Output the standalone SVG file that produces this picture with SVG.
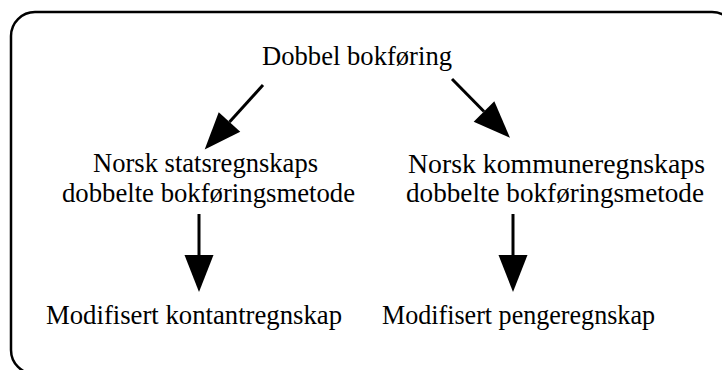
<svg xmlns="http://www.w3.org/2000/svg" width="722" height="370" viewBox="0 0 722 370">
  <style>
    .frame { fill: #ffffff; stroke: #000000; stroke-width: 2.5; }
    .label { font-family: "Liberation Serif", "Times New Roman", serif; font-size: 28px; fill: #000000; }
    .edge { stroke: #000000; stroke-width: 3; fill: none; marker-end: url(#head); }
  </style>
  <defs>
    <marker id="head" markerUnits="userSpaceOnUse" markerWidth="38" markerHeight="30" refX="0" refY="14.5" orient="auto" overflow="visible">
      <path d="M0,0 L37,14.5 L0,29 Z" fill="#000000"/>
    </marker>
  </defs>

  <rect width="722" height="370" fill="#ffffff"/>
  <rect class="frame" x="11" y="12" width="725" height="362" rx="24" ry="24"/>

  <g id="node-dobbel">
    <text class="label" x="262" y="65" textLength="190" lengthAdjust="spacingAndGlyphs">Dobbel bokføring</text>
  </g>
  <g id="node-stat">
    <text class="label" x="93" y="172" textLength="225" lengthAdjust="spacingAndGlyphs">Norsk statsregnskaps</text>
    <text class="label" x="62" y="202" textLength="293" lengthAdjust="spacingAndGlyphs">dobbelte bokføringsmetode</text>
  </g>
  <g id="node-kommune">
    <text class="label" x="408" y="173" textLength="297" lengthAdjust="spacingAndGlyphs">Norsk kommuneregnskaps</text>
    <text class="label" x="406" y="202" textLength="298" lengthAdjust="spacingAndGlyphs">dobbelte bokføringsmetode</text>
  </g>
  <g id="node-kontant">
    <text class="label" x="46" y="324" textLength="296" lengthAdjust="spacingAndGlyphs">Modifisert kontantregnskap</text>
  </g>
  <g id="node-penge">
    <text class="label" x="382" y="324" textLength="273" lengthAdjust="spacingAndGlyphs">Modifisert pengeregnskap</text>
  </g>

  <g id="connectors">
    <line class="edge" x1="263" y1="85" x2="229.5" y2="122"/>
    <line class="edge" x1="452" y1="79" x2="484" y2="111.5"/>
    <line class="edge" x1="199" y1="214" x2="199" y2="255"/>
    <line class="edge" x1="513" y1="214" x2="513" y2="255"/>
  </g>
</svg>
